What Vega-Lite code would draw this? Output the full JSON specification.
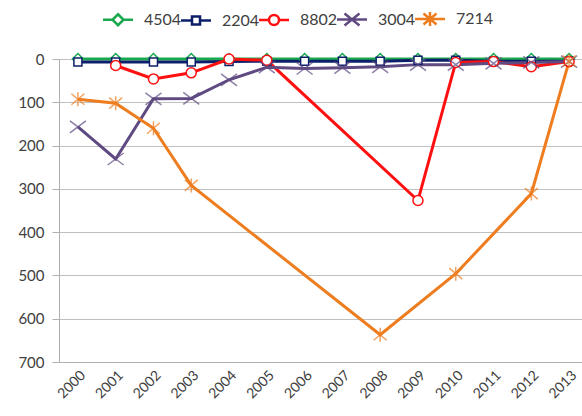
{
  "$schema": "https://vega.github.io/schema/vega-lite/v6.json",
  "width": 529,
  "height": 303,
  "padding": {"left": 17, "top": 11, "right": 0, "bottom": 0},
  "background": "white",
  "config": {
    "font": "Lato",
    "view": {"stroke": null},
    "axis": {"labelColor": "#404040", "labelFont": "Lato", "gridColor": "#c0c0c0", "domainColor": "#b0b0b0", "tickColor": "#b0b0b0"}
  },
  "data": {
    "values": [
      {"year": "2000", "series": "4504", "value": 0},
      {"year": "2001", "series": "4504", "value": 0},
      {"year": "2002", "series": "4504", "value": 0},
      {"year": "2003", "series": "4504", "value": 0},
      {"year": "2004", "series": "4504", "value": 0},
      {"year": "2005", "series": "4504", "value": 0},
      {"year": "2006", "series": "4504", "value": 0},
      {"year": "2007", "series": "4504", "value": 0},
      {"year": "2008", "series": "4504", "value": 0},
      {"year": "2009", "series": "4504", "value": 0},
      {"year": "2010", "series": "4504", "value": 0},
      {"year": "2011", "series": "4504", "value": 0},
      {"year": "2012", "series": "4504", "value": 0},
      {"year": "2013", "series": "4504", "value": 0},
      {"year": "2000", "series": "2204", "value": 7},
      {"year": "2001", "series": "2204", "value": 7},
      {"year": "2002", "series": "2204", "value": 7},
      {"year": "2003", "series": "2204", "value": 7},
      {"year": "2004", "series": "2204", "value": 6},
      {"year": "2005", "series": "2204", "value": 5},
      {"year": "2006", "series": "2204", "value": 5},
      {"year": "2007", "series": "2204", "value": 5},
      {"year": "2008", "series": "2204", "value": 5},
      {"year": "2009", "series": "2204", "value": 3},
      {"year": "2010", "series": "2204", "value": 3},
      {"year": "2011", "series": "2204", "value": 5},
      {"year": "2012", "series": "2204", "value": 5},
      {"year": "2013", "series": "2204", "value": 5},
      {"year": "2001", "series": "8802", "value": 15},
      {"year": "2002", "series": "8802", "value": 46},
      {"year": "2003", "series": "8802", "value": 32},
      {"year": "2004", "series": "8802", "value": 0},
      {"year": "2005", "series": "8802", "value": 3},
      {"year": "2009", "series": "8802", "value": 327},
      {"year": "2010", "series": "8802", "value": 8},
      {"year": "2011", "series": "8802", "value": 6},
      {"year": "2012", "series": "8802", "value": 18},
      {"year": "2013", "series": "8802", "value": 6},
      {"year": "2000", "series": "3004", "value": 157},
      {"year": "2001", "series": "3004", "value": 231},
      {"year": "2002", "series": "3004", "value": 92},
      {"year": "2003", "series": "3004", "value": 91},
      {"year": "2004", "series": "3004", "value": 48},
      {"year": "2005", "series": "3004", "value": 19},
      {"year": "2006", "series": "3004", "value": 22},
      {"year": "2007", "series": "3004", "value": 20},
      {"year": "2008", "series": "3004", "value": 18},
      {"year": "2009", "series": "3004", "value": 13},
      {"year": "2010", "series": "3004", "value": 13},
      {"year": "2011", "series": "3004", "value": 10},
      {"year": "2012", "series": "3004", "value": 8},
      {"year": "2013", "series": "3004", "value": 6},
      {"year": "2000", "series": "7214", "value": 93},
      {"year": "2001", "series": "7214", "value": 102},
      {"year": "2002", "series": "7214", "value": 160},
      {"year": "2003", "series": "7214", "value": 292},
      {"year": "2008", "series": "7214", "value": 637},
      {"year": "2010", "series": "7214", "value": 496},
      {"year": "2012", "series": "7214", "value": 311},
      {"year": "2013", "series": "7214", "value": 5}
    ]
  },
  "encoding": {
    "x": {
      "field": "year", "type": "ordinal",
      "scale": {"paddingOuter": 0.5},
      "axis": {"title": null, "labelAngle": -45, "labelFontSize": 14, "ticks": false, "grid": false, "labelPadding": 6}
    },
    "y": {
      "field": "value", "type": "quantitative",
      "scale": {"domain": [0, 700], "reverse": true, "nice": false},
      "axis": {"title": null, "values": [0, 100, 200, 300, 400, 500, 600, 700], "labelFontSize": 15, "tickSize": 7, "labelPadding": 8}
    },
    "color": {
      "field": "series", "type": "nominal",
      "scale": {"domain": ["4504", "2204", "8802", "3004", "7214"], "range": ["#1aa84e", "#0d1f6b", "#ff1010", "#5f4a82", "#ee7d1f"]},
      "legend": {
        "orient": "none", "legendX": 51, "legendY": -48, "direction": "horizontal", "title": null,
        "labelFontSize": 16, "labelColor": "#404040", "symbolSize": 100, "symbolStrokeWidth": 2.5,
        "labelOffset": 18, "columnPadding": -6, "padding": 0,
        "encode": {
          "symbols": {
            "update": {
              "fill": {"value": "white"},
              "shape": {"signal": "{'4504': 'M-3,0L-1.1,0M1.1,0L3,0M0,-1.1L1.1,0L0,1.1L-1.1,0Z', '2204': 'M-3,0L-0.8,0M0.8,0L3,0M-0.8,-0.8L0.8,-0.8L0.8,0.8L-0.8,0.8Z', '8802': 'M-3,0L-1,0M1,0L3,0M-1,0A1,1,0,1,1,1,0A1,1,0,1,1,-1,0Z', '3004': 'M-3,0L3,0M-1.5,-1.2L1.5,1.2M-1.5,1.2L1.5,-1.2', '7214': 'M-3,0L3,0M-1.3,-1.1L1.3,1.1M-1.3,1.1L1.3,-1.1M0,-1.4L0,1.4'}[datum.value]"}
            }
          }
        }
      }
    }
  },
  "layer": [
    {"mark": {"type": "line", "strokeWidth": 3}},
    {
      "transform": [{"filter": "datum.series === '4504'"}],
      "mark": {"type": "point", "filled": false, "fill": "white", "fillOpacity": 1, "strokeWidth": 1.5, "size": 100, "shape": "M0,-1.1L1.1,0L0,1.1L-1.1,0Z"}
    },
    {
      "transform": [{"filter": "datum.series === '2204'"}],
      "mark": {"type": "point", "filled": false, "fill": "white", "fillOpacity": 1, "strokeWidth": 1.5, "size": 100, "shape": "M-0.8,-0.8L0.8,-0.8L0.8,0.8L-0.8,0.8Z"}
    },
    {
      "transform": [{"filter": "datum.series === '8802'"}],
      "mark": {"type": "point", "filled": false, "fill": "white", "fillOpacity": 1, "strokeWidth": 1.5, "size": 100, "shape": "M-1,0A1,1,0,1,1,1,0A1,1,0,1,1,-1,0Z"}
    },
    {
      "transform": [{"filter": "datum.series === '3004'"}],
      "mark": {"type": "point", "filled": false, "strokeWidth": 1.5, "size": 100, "shape": "M-1.6,-1.2L1.6,1.2M-1.6,1.2L1.6,-1.2"}
    },
    {
      "transform": [{"filter": "datum.series === '7214'"}],
      "mark": {"type": "point", "filled": false, "strokeWidth": 1.5, "size": 100, "shape": "M-1.3,-1.1L1.3,1.1M-1.3,1.1L1.3,-1.1M0,-1.4L0,1.4"}
    }
  ]
}
